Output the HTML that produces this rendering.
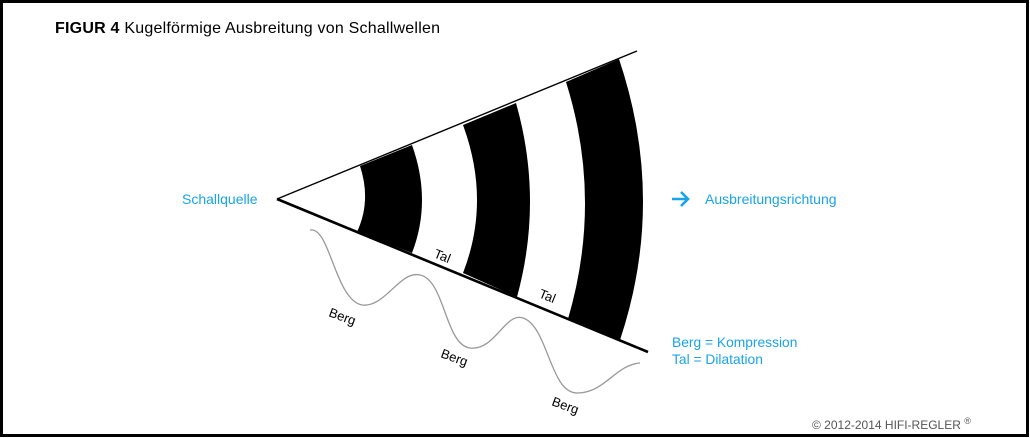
<!DOCTYPE html>
<html><head><meta charset="utf-8"><style>
html,body{margin:0;padding:0;background:#fff}
#w{position:relative;width:1030px;height:438px;overflow:hidden}
svg{position:absolute;left:0;top:0}
</style></head><body><div id="w">
<svg width="1030" height="438" viewBox="0 0 1030 438" font-family="Liberation Sans, Arial, sans-serif">
<rect x="1.5" y="1.5" width="1026" height="434" fill="#fff" stroke="#000" stroke-width="3"/>
<text x="55" y="33" font-size="16" fill="#000" textLength="385" lengthAdjust="spacing"><tspan font-weight="bold">FIGUR 4</tspan> Kugelförmige Ausbreitung von Schallwellen</text>
<path d="M360 166 Q371.5 201 357 232 L412 253 Q432 201 412 145 Z" fill="#000"/>
<path d="M463 125 Q491 201 463 273 L517 297 Q543.5 200 516 103 Z" fill="#000"/>
<path d="M566 82 Q603 199.5 568 319 L620 340 Q666.5 200.5 619 59 Z" fill="#000"/>
<line x1="277" y1="199" x2="637" y2="51" stroke="#000" stroke-width="1.4"/>
<line x1="277" y1="199" x2="648" y2="352" stroke="#000" stroke-width="2.6"/>
<path d="M310 230 C330 226 335 300 362 305 C385 308 400 270 420 275 C445 280 445 345 470 348 C495 351 505 312 523 318 C548 326 550 393 577 393 C605 393 615 365 640 363" fill="none" stroke="#999" stroke-width="1.3"/>
<g font-size="13" fill="#000">
<text transform="translate(433,257) rotate(22)">Tal</text>
<text transform="translate(538,297) rotate(22)">Tal</text>
<text transform="translate(328,316) rotate(20)">Berg</text>
<text transform="translate(440,357) rotate(20)">Berg</text>
<text transform="translate(551,405) rotate(20)">Berg</text>
</g>
<g font-size="14" fill="#1aa3e8">
<text x="182" y="204">Schallquelle</text>
<text x="705" y="204">Ausbreitungsrichtung</text>
<text x="672" y="347" font-size="13.8">Berg = Kompression</text>
<text x="672" y="364" font-size="13.8">Tal = Dilatation</text>
</g>
<path d="M672 199 H688 M681 192 L688 199 L681 206" fill="none" stroke="#1aa3e8" stroke-width="2.6"/>
<text x="812" y="429" font-size="12" fill="#555">© 2012-2014 HIFI-REGLER <tspan font-size="9" dy="-5">®</tspan></text>
</svg>
</div></body></html>
